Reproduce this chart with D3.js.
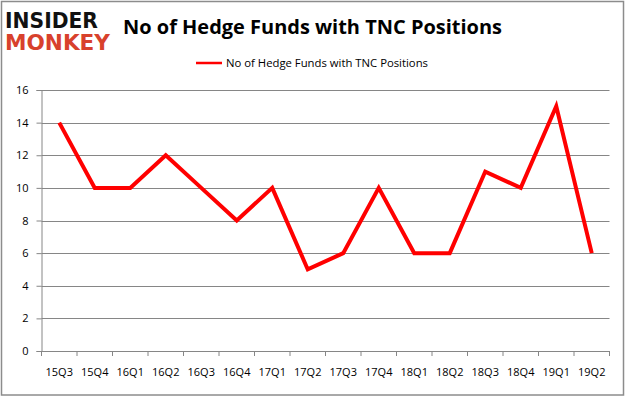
<!DOCTYPE html>
<html>
<head>
<meta charset="utf-8">
<script src="https://cdn.jsdelivr.net/npm/d3@7"></script>
<style>
  body { margin: 0; background: #fff; }
  svg { display: block; font-family: "Open Sans", "Liberation Sans", sans-serif; }
</style>
</head>
<body>
<script>
// quarters and fund counts
var quarters = ["15Q3","15Q4","16Q1","16Q2","16Q3","16Q4","17Q1","17Q2","17Q3","17Q4","18Q1","18Q2","18Q3","18Q4","19Q1","19Q2"];
var funds = [14,10,10,12,10,8,10,5,6,10,6,6,11,10,15,6];
var yTicks = [0,2,4,6,8,10,12,14,16];
var seriesName = "No of Hedge Funds with TNC Positions";

var W = 626, H = 397;
var svg = d3.select("body").append("svg")
	.attr("width", W)
	.attr("height", H)

// outer frame
svg.append("rect")
	.attr("x", 1.5).attr("y", 1.5)
	.attr("width", W - 4).attr("height", H - 3.5)
	.attr("fill", "#fff")
	.attr("stroke", "#8c8c8c")
	.attr("stroke-width", 1.5)

// logo
svg.append("text")
	.attr("x", 5).attr("y", 28)
	.attr("font-family", "DejaVu Sans")
	.attr("font-weight", "bold")
	.attr("font-size", 21)
	.attr("textLength", 93)
	.attr("lengthAdjust", "spacingAndGlyphs")
	.attr("fill", "#111")
	.text("INSIDER")
svg.append("text")
	.attr("x", 5).attr("y", 50)
	.attr("font-family", "DejaVu Sans")
	.attr("font-weight", "bold")
	.attr("font-size", 21)
	.attr("textLength", 105)
	.attr("lengthAdjust", "spacingAndGlyphs")
	.attr("fill", "#d8412c")
	.text("MONKEY")

// title
svg.append("text")
	.attr("x", 123).attr("y", 34)
	.attr("font-weight", "bold")
	.attr("font-size", 20)
	.attr("textLength", 379)
	.attr("lengthAdjust", "spacingAndGlyphs")
	.attr("fill", "#000")
	.text("No of Hedge Funds with TNC Positions")

var margin = {left: 41.5, right: 16.5, top: 90, bottom: 46};
var x = d3.scaleBand()
	.domain(quarters)
	.range([margin.left, W - margin.right])
var y = d3.scaleLinear()
	.domain([0, 16])
	.range([H - margin.bottom, margin.top])

// gridlines
svg.append("g").selectAll("line")
	.data(yTicks.filter(function(d) { return d > 0 }))
	.enter().append("line")
	.attr("x1", margin.left).attr("x2", W - margin.right)
	.attr("y1", function(d) { return Math.round(y(d)) + 0.5 })
	.attr("y2", function(d) { return Math.round(y(d)) + 0.5 })
	.attr("stroke", "#868686")

// y axis
var yAxis = svg.append("g")
	.attr("transform", "translate(" + margin.left + ",0)")
	.call(d3.axisLeft(y).tickValues(yTicks).tickSize(5).tickPadding(8))
yAxis.selectAll("path, line").attr("stroke", "#868686")
yAxis.selectAll("text").attr("font-size", 11).attr("fill", "#000")
	.attr("font-family", "Open Sans")

// x axis
var xAxis = svg.append("g")
	.attr("transform", "translate(0," + y(0) + ")")
	.call(d3.axisBottom(x).tickSize(0).tickPadding(17))
xAxis.select("path").attr("stroke", "#868686")
xAxis.selectAll("text").attr("font-size", 11).attr("fill", "#000")
	.attr("font-family", "Open Sans")
// tick marks at band edges
xAxis.selectAll("line.edge")
	.data(quarters.concat(["end"]))
	.enter().append("line")
	.attr("class", "edge")
	.attr("x1", function(d, i) { return margin.left + i * x.step() })
	.attr("x2", function(d, i) { return margin.left + i * x.step() })
	.attr("y1", 0).attr("y2", 5)
	.attr("stroke", "#868686")

// series line
var line = d3.line()
	.x(function(d, i) { return x(quarters[i]) + x.bandwidth() / 2 })
	.y(function(d) { return y(d) })
svg.append("path")
	.datum(funds)
	.attr("d", line)
	.attr("fill", "none")
	.attr("stroke", "#ff0000")
	.attr("stroke-width", 4)
	.attr("stroke-linejoin", "miter")

// legend
var lg = svg.append("g").attr("transform", "translate(196,63)")
lg.append("line")
	.attr("x1", 0).attr("x2", 26)
	.attr("stroke", "#ff0000").attr("stroke-width", 2.5)
lg.append("text")
	.attr("x", 30).attr("y", 4)
	.attr("font-size", 11)
	.attr("textLength", 202)
	.attr("lengthAdjust", "spacingAndGlyphs")
	.text(seriesName)
</script>
</body>
</html>
